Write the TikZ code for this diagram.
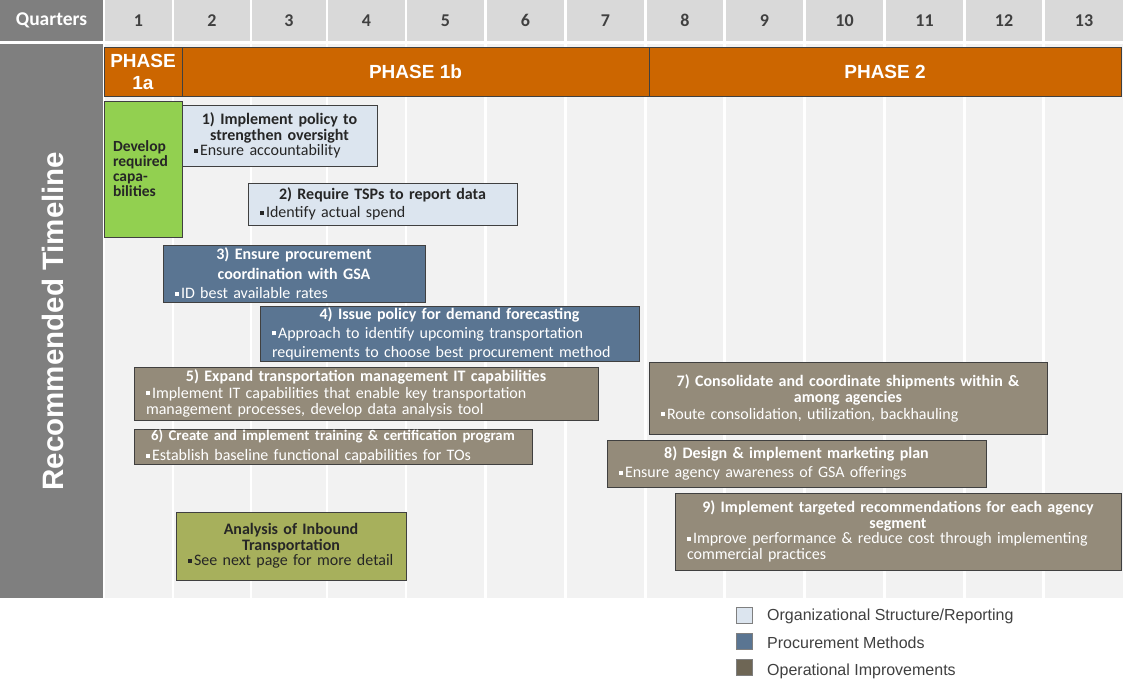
\documentclass[tikz,border=0pt]{standalone}
\usepackage{fontspec}
\setmainfont{Carlito}
\newfontfamily\arialf{Liberation Sans}
\setlength\parindent{0pt}
\definecolor{hdrgray}{HTML}{7F7F7F}
\definecolor{hdrcell}{HTML}{D9D9D9}
\definecolor{bodybg}{HTML}{F2F2F2}
\definecolor{numtext}{HTML}{404040}
\definecolor{phasefill}{HTML}{CC6600}
\definecolor{boxline}{HTML}{404040}
\definecolor{lightfill}{HTML}{DCE5EF}
\definecolor{bluefill}{HTML}{5A7592}
\definecolor{taupefill}{HTML}{948B7A}
\definecolor{taupedark}{HTML}{6E6655}
\definecolor{greenfill}{HTML}{92D050}
\definecolor{olivefill}{HTML}{A7B05C}
\definecolor{darktext}{HTML}{262626}
\definecolor{legtext}{HTML}{404040}
\newcommand\ttl[1]{{\centering\bfseries #1\par}}
\newcommand\bitem[1]{{\raggedright\hangindent=6pt\hangafter=1\noindent\makebox[6pt][l]{\rule[3pt]{3.8pt}{3.8pt}}#1\par}}
\tikzset{
  tbox/.style={draw=boxline, line width=0.8pt, inner sep=0pt, outer sep=0pt, anchor=north west},
  lightbox/.style={tbox, fill=lightfill, text=darktext},
  bluebox/.style={tbox, fill=bluefill, text=white},
  taupebox/.style={tbox, fill=taupefill, text=white},
  fs/.style={font=\fontsize{16}{#1}\selectfont},
  hcell/.style={fill=hdrcell, inner sep=0pt, outer sep=0pt, text=numtext, font=\fontsize{18}{20}\selectfont\bfseries},
  phasebox/.style={draw=boxline, line width=0.8pt, fill=phasefill, inner sep=0pt, outer sep=0pt, anchor=north west, text=white, align=center, font=\arialf\fontsize{19}{22}\selectfont\bfseries},
  legsq/.style={draw=hdrgray, line width=0.6pt, minimum size=16pt, inner sep=0pt},
  legtxt/.style={anchor=west, text=legtext, inner sep=0pt, font=\arialf\fontsize{16}{18}\selectfont}
}
\begin{document}
\begin{tikzpicture}[x=1pt,y=-1pt]
\useasboundingbox (0,0) rectangle (1123,683);
\fill[white] (0,0) rectangle (1123,683);
% header
\node[fill=hdrgray, inner sep=0pt, outer sep=0pt, anchor=north west, minimum width=103pt, minimum height=41pt, text=white, font=\fontsize{19.5}{21}\selectfont\bfseries] (qh) at (0,0) {Quarters};
\fill[hdrgray] (0,44) rectangle (103,598);
\foreach \a/\b/\n in {105/172/1,174/250/2,252/326/3,328/405/4,407/484/5,487/564/6,567/644/7,647/723/8,726/803/9,806/883/10,886/963/11,966/1042/12,1045/1123/13}{
  \pgfmathsetmacro\w{\b-\a}
  \node[hcell, minimum width=\w pt, minimum height=41pt] (c\n) at ({(\a+\b)/2},20.5) {\n};
  \fill[bodybg] (\a,44) rectangle (\b,598);
}
\node[rotate=90, text=white, inner sep=0pt, font=\arialf\fontsize{29.5}{31}\selectfont\bfseries] (rt) at (53,321) {Recommended Timeline};
% phases
\node[phasebox, minimum width=78pt, minimum height=49pt] (p1a) at (104,47) {PHASE\\1a};
\node[phasebox, minimum width=467pt, minimum height=49pt] (p1b) at (182,47) {PHASE 1b};
\node[phasebox, minimum width=472pt, minimum height=49pt] (p2) at (649,47) {PHASE 2};
% boxes
\node[tbox, fill=greenfill, text=darktext, minimum width=78pt, minimum height=136pt, text width=60pt, align=left, font=\fontsize{15.5}{15}\selectfont\bfseries] (dev) at (104,101) {Develop\\required\\capa-\\bilities};
\node[lightbox, fs=15.5, minimum width=195pt, minimum height=61pt, text width=171pt] (b1) at (182,105) {\ttl{1) Implement policy to\\strengthen oversight}\bitem{Ensure accountability}};
\node[lightbox, fs=18, minimum width=269pt, minimum height=42pt, text width=245pt] (b2) at (248,183) {\ttl{2) Require TSPs to report data}\bitem{Identify actual spend}};
\node[bluebox, fs=19.5, minimum width=262pt, minimum height=57pt, text width=238pt] (b3) at (163,245) {\ttl{3) Ensure procurement\\coordination with GSA}\bitem{ID best available rates}};
\node[bluebox, fs=19, minimum width=379pt, minimum height=55pt, text width=355pt] (b4) at (260,306) {\ttl{4) Issue policy for demand forecasting}\bitem{Approach to identify upcoming transportation\\requirements to choose best procurement method}};
\node[taupebox, fs=16.5, minimum width=464pt, minimum height=53pt, text width=440pt] (b5) at (134,367) {\ttl{5) Expand transportation management IT capabilities}\bitem{Implement IT capabilities that enable key transportation\\management processes, develop data analysis tool}};
\node[taupebox, fs=20, minimum width=398pt, minimum height=35pt, text width=374pt] (b6) at (134,429) {\ttl{\makebox[\linewidth]{\fontsize{14.8}{20}\selectfont 6) Create and implement training \& certification program}}\bitem{Establish baseline functional capabilities for TOs}};
\node[taupebox, fs=16.5, minimum width=398pt, minimum height=72pt, text width=374pt] (b7) at (649,362) {\ttl{7) Consolidate and coordinate shipments within \&\\among agencies}\bitem{Route consolidation, utilization, backhauling}};
\node[taupebox, fs=19, minimum width=379pt, minimum height=47pt, text width=355pt] (b8) at (607,440) {\ttl{8) Design \& implement marketing plan}\bitem{Ensure agency awareness of GSA offerings}};
\node[taupebox, fs=15.5, minimum width=446pt, minimum height=77pt, text width=422pt] (b9) at (675,493) {\ttl{9) Implement targeted recommendations for each agency\\segment}\bitem{Improve performance \& reduce cost through implementing\\commercial practices}};
\node[tbox, fill=olivefill, text=darktext, fs=15.5, minimum width=230pt, minimum height=68pt, text width=206pt] (an) at (176,512) {\ttl{Analysis of Inbound\\Transportation}\bitem{See next page for more detail}};
% legend
\node[legsq, fill=lightfill] (l1) at (744.5,615) {};
\node[legsq, fill=bluefill] (l2) at (744.5,641) {};
\node[legsq, fill=taupedark] (l3) at (744.5,667) {};
\node[legtxt] (t1) at (767,616) {Organizational Structure/Reporting};
\node[legtxt] (t2) at (767,643) {Procurement Methods};
\node[legtxt] (t3) at (767,671) {Operational Improvements};
\end{tikzpicture}
\end{document}
